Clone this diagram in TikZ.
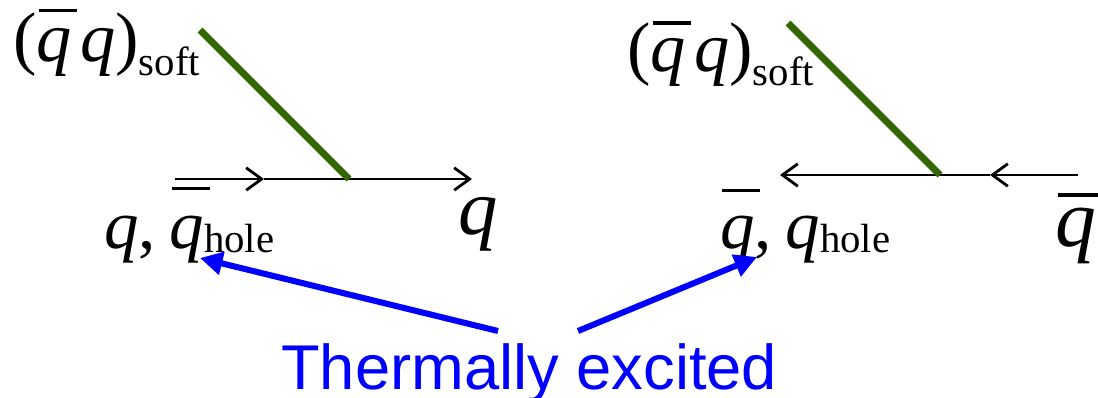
\documentclass[tikz,border=0pt]{standalone}
\usepackage{fontspec}
\setmainfont{Liberation Serif}
\newfontfamily\armfont{Liberation Sans}
\usetikzlibrary{arrows.meta,positioning}
\definecolor{gluon}{RGB}{51,102,0}
\tikzset{
  quark/.style={black,line width=2pt,-{Straight Barb[length=11pt,width=16pt,line width=2pt]}},
  soft/.style={gluon,line width=4.8pt},
  pointer/.style={blue,line width=4.3pt,-{Triangle[length=16pt,width=16pt]}},
  lbl/.style={inner sep=0pt,anchor=base west}
}
\newcommand{\qi}{\textit{q}}
\newcommand{\qb}[1][0.84em]{\makebox[0pt][l]{\hspace{0.03em}\rule[#1]{0.55em}{0.045em}}\textit{q}}
\newcommand{\lowsub}[2]{\raisebox{-#1}{\fontsize{29}{29}\selectfont #2}}

\begin{document}
\begin{tikzpicture}[x=0.025cm,y=-0.025cm]
\useasboundingbox (0,0) rectangle (1098,397);
% left vertex: q in, q out
\coordinate (la) at (175,179);
\coordinate (lm) at (264,179);
\coordinate (lv) at (349,179);
\coordinate (lb) at (472,179);
\coordinate (lg) at (200,30);
\draw[quark] (la) -- (lm);
\draw[quark] (lm) -- (lb);
\draw[soft] (lg) -- (lv);
\node[lbl] (lsoft) at (13,61) {\fontsize{50}{50}\selectfont (\qb[0.69em]\hspace{0.12em}\qi)\lowsub{10pt}{soft}};
\node[lbl] (lin) at (104,248) {\fontsize{49}{49}\selectfont \qi,\hspace{0.2em}\qb\lowsub{3pt}{hole}};
\node[lbl] (lout) at (458,234) {\fontsize{56}{56}\selectfont \qi};
% right vertex: qbar in, qbar out
\coordinate (ra) at (1078,175);
\coordinate (rm) at (990,175);
\coordinate (rv) at (940,175);
\coordinate (rb) at (780,175);
\coordinate (rg) at (788,23);
\draw[quark] (ra) -- (rm);
\draw[quark] (rm) -- (rb);
\draw[soft] (rg) -- (rv);
\node[lbl] (rsoft) at (627,71) {\fontsize{50}{50}\selectfont (\qb[0.66em]\hspace{0.12em}\qi)\lowsub{10pt}{soft}};
\node[lbl] (rin) at (720,248) {\fontsize{49}{49}\selectfont \qb[0.81em],\hspace{0.2em}\qi\lowsub{3pt}{hole}};
\node[lbl] (rout) at (1055,246) {\fontsize{58}{58}\selectfont \qb[0.6em]};
% thermal label
\node[lbl,blue] (therm) at (281,389) {\armfont\fontsize{45}{45}\selectfont Thermally excited};
\coordinate (tl) at (498,331);
\coordinate (tr) at (578,331);
\coordinate (hl) at (200,258);
\coordinate (hr) at (757,257);
\draw[pointer] (tl) -- (hl);
\draw[pointer] (tr) -- (hr);
\end{tikzpicture}
\end{document}
